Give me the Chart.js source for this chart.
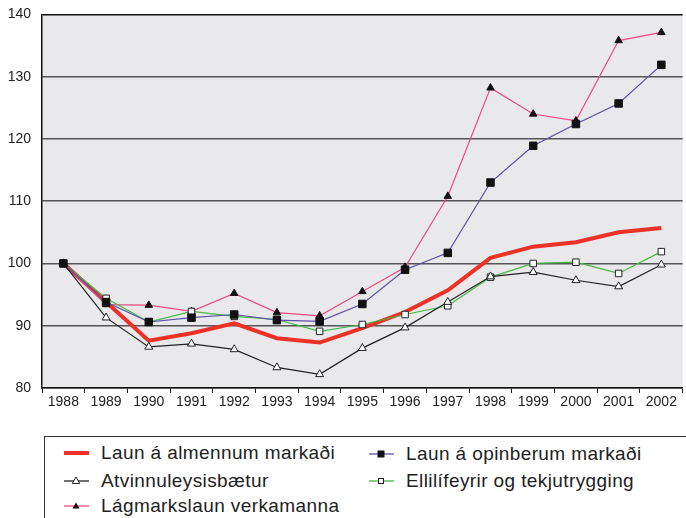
<!DOCTYPE html>
<html>
<head>
<meta charset="utf-8">
<script src="https://cdn.jsdelivr.net/npm/chart.js@4/dist/chart.umd.min.js"></script>
<style>
  html, body { margin:0; padding:0; background:#fff; overflow:hidden; width:686px; height:518px; }
  #wrap { position:absolute; left:0; top:-5px; width:689px; height:421px; }
  #legend { position:absolute; left:44px; top:436px; width:700px; height:120px; border:1px solid #333; box-sizing:border-box;
            font-family:"Liberation Sans", Arial, sans-serif; font-size:19px; letter-spacing:0.4px; color:#222; }
  .item { position:absolute; height:24px; display:flex; align-items:center; white-space:nowrap; }
  .item svg { position:absolute; left:0; top:5px; }
  .item span { position:absolute; left:37px; top:0; line-height:24px; }
</style>
</head>
<body>
<div id="wrap"><canvas id="c"></canvas></div>
<div id="legend"></div>
<script>
const years = ["1988","1989","1990","1991","1992","1993","1994","1995","1996","1997","1998","1999","2000","2001","2002"];
const seriesNames = ["Laun á almennum markaði","Laun á opinberum markaði","Atvinnuleysisbætur","Ellilífeyrir og tekjutrygging","Lágmarkslaun verkamanna"];
const launAlmennum   = [100, 93.8, 87.6, 88.8, 90.4, 88.0, 87.3, 89.6, 92.2, 95.7, 100.9, 102.7, 103.4, 105.0, 105.7];
const launOpinberum  = [100, 93.8, 90.6, 91.3, 91.8, 90.9, 90.7, 93.5, 99.0, 101.7, 113.0, 118.9, 122.4, 125.7, 131.9];
const atvinnuleysis  = [100, 91.3, 86.6, 87.1, 86.2, 83.3, 82.2, 86.4, 89.7, 93.8, 97.9, 98.6, 97.3, 96.3, 99.8];
const ellilifeyrir   = [100, 94.4, 90.6, 92.3, 91.5, 91.0, 89.1, 90.2, 91.8, 93.2, 97.8, 100.0, 100.2, 98.4, 101.9];
const lagmarkslaun   = [100, 93.4, 93.3, 92.3, 95.2, 92.1, 91.6, 95.5, 99.4, 110.8, 128.2, 124.0, 122.9, 135.8, 137.1];
const yTicks = [80, 90, 100, 110, 120, 130, 140];

const bgPlugin = {
  id: 'bg',
  beforeDraw(chart) {
    const {ctx, chartArea:a} = chart;
    ctx.save(); ctx.fillStyle = '#e9e9ec';
    ctx.fillRect(a.left, a.top, a.right - a.left, a.bottom - a.top);
    ctx.restore();
  }
};

const styles = [
  {border:'#ec3126', width:4, style:'circle', radius:0, fill:'#ec3126', pb:'#ec3126', pw:0},
  {border:'#5c4fa6', width:1.2, style:'rect', radius:5.3, fill:'#111', pb:'#111', pw:1},
  {border:'#222', width:1.2, style:'triangle', radius:4.6, fill:'#fff', pb:'#222', pw:1},
  {border:'#45b845', width:1.2, style:'rect', radius:4.6, fill:'#fff', pb:'#222', pw:1},
  {border:'#ee4a7e', width:1.2, style:'triangle', radius:4.3, fill:'#111', pb:'#111', pw:1}
];
const dataArrays = [launAlmennum, launOpinberum, atvinnuleysis, ellilifeyrir, lagmarkslaun];

const datasets = dataArrays.map((d, i) => ({
  label: seriesNames[i],
  data: d,
  borderColor: styles[i].border,
  borderWidth: styles[i].width,
  pointStyle: styles[i].style,
  pointRadius: styles[i].radius,
  pointBackgroundColor: styles[i].fill,
  pointBorderColor: styles[i].pb,
  pointBorderWidth: styles[i].pw,
  tension: 0,
  order: i === 0 ? 10 : i
}));

new Chart(document.getElementById('c'), {
  type: 'line',
  data: { labels: years, datasets },
  options: {
    responsive: true,
    maintainAspectRatio: false,
    animation: false,
    layout: { padding: { top: 9, right: 0, left: 0, bottom: 0 } },
    plugins: { legend: { display: false }, tooltip: { enabled: false } },
    scales: {
      x: {
        offset: true,
        grid: { offset: true, drawOnChartArea: false, drawTicks: true, tickLength: 5, color: '#222' },
        border: { color: '#111', width: 1.5 },
        ticks: { color: '#222', font: { family: '"Liberation Sans", Arial, sans-serif', size: 14 }, padding: 1, maxRotation: 0, autoSkip: false },
        afterFit(s) { s.height = 28; }
      },
      y: {
        min: 80, max: 140,
        afterBuildTicks(s) { s.ticks = yTicks.map(v => ({ value: v })); },
        grid: { color: (c) => c.tick && c.tick.value === 140 ? '#111' : '#555', lineWidth: 1.5, drawTicks: false },
        border: { color: '#111', width: 1.5 },
        ticks: { color: '#222', font: { family: '"Liberation Sans", Arial, sans-serif', size: 14 }, padding: 11 },
        afterFit(s) { s.width = 42; }
      }
    }
  },
  plugins: [bgPlugin]
});

// HTML legend built from the series
const legendPos = [
  {x: 19, y: 16}, {x: 324, y: 17}, {x: 19, y: 44}, {x: 324, y: 44}, {x: 19, y: 69}
];
function sampleSvg(st) {
  let m = '';
  if (st.radius > 0) {
    if (st.style === 'rect') {
      const s = st.fill === '#111' ? 6 : 5;
      m = `<rect x="${12 - s/2}" y="${7 - s/2}" width="${s}" height="${s}" fill="${st.fill}" stroke="${st.pb}" stroke-width="1"/>`;
    } else {
      m = st.fill === '#111'
        ? `<polygon points="12,3.5 15.5,9.5 8.5,9.5" fill="#111"/>`
        : `<polygon points="12,3 15.8,9.5 8.2,9.5" fill="#fff" stroke="#222" stroke-width="1"/>`;
    }
  }
  return `<svg width="25" height="14" viewBox="0 0 25 14"><line x1="0" y1="7" x2="25" y2="7" stroke="${st.border}" stroke-width="${st.width === 4 ? 4 : 1.3}"/>${m}</svg>`;
}
const lg = document.getElementById('legend');
seriesNames.forEach((name, i) => {
  const d = document.createElement('div');
  d.className = 'item';
  d.style.left = legendPos[i].x + 'px';
  d.style.top = (legendPos[i].y - 12) + 'px';
  d.innerHTML = sampleSvg(styles[i]) + '<span>' + name + '</span>';
  lg.appendChild(d);
});
</script>
</body>
</html>
